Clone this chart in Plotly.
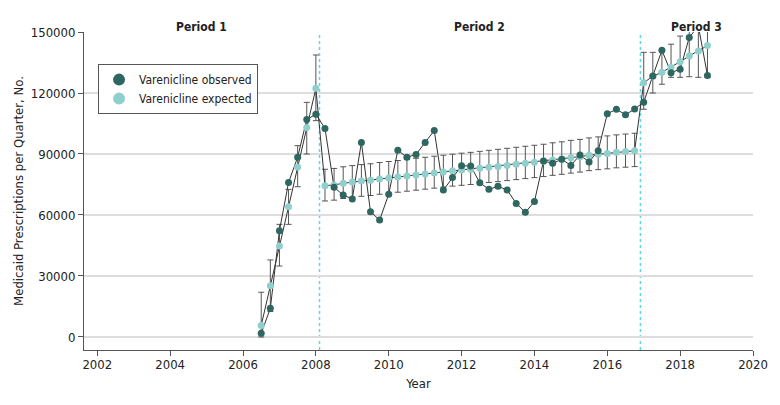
import plotly.graph_objects as go

# ---- data ----
quarters = (
    ["2006Q3", "2006Q4"]
    + [f"{y}Q{q}" for y in range(2007, 2019) for q in (1, 2, 3, 4)]
)

observed = [
    1800, 14100, 52300, 76000, 88400, 107000, 109500,
    102600, 73600, 69800, 67900, 95700, 61600, 57500, 70200, 91800, 88400,
    89800, 95700, 101500, 72300, 78500, 84200, 84100, 75900, 72600, 74100,
    72300, 65700, 61300, 66600, 86600, 85400, 87400, 84400, 89500, 86100,
    91600, 109800, 112000, 109300, 112100,
    115500, 128400, 141000, 130000, 131700, 147300, 153000, 128600,
]

expected = [
    5700, 25200, 44800, 64100, 83600, 103000, 122300,
    74400, 74800, 75600, 76200, 76700, 77100, 77700, 78200, 78700, 79200,
    79700, 80200, 80700, 81200, 81700, 82100, 82500, 83000, 83500, 83900,
    84400, 84900, 85400, 85900, 86400, 87000, 87500, 88200, 88700, 89400,
    89900, 90300, 90800, 91200, 91600,
    125100, 128200, 130200, 132600, 135400, 138200, 140700, 143300,
]

expected_upper = [
    22000, 37900, 55400, 72600, 94100, 115400, 138700,
    82500, 82900, 83700, 84300, 84800, 85200, 85800, 86300, 86800, 87300,
    87900, 88400, 88900, 89400, 89900, 90400, 90800, 91300, 91800, 92300,
    92800, 93300, 93800, 94300, 94800, 95500, 96000, 96700, 97200, 97900,
    98400, 98900, 99400, 99800, 100200,
    140000, 140000, 141000, 144000, 148000, 155000, 158000, 161000,
]

expected_lower = [
    0, 12500, 34900, 55400, 73900, 90000, 106400,
    66900, 67300, 68100, 68700, 69200, 69600, 70200, 70700, 71200, 71700,
    72200, 72700, 73200, 73700, 74200, 74600, 75000, 75500, 76000, 76400,
    76900, 77400, 77900, 78400, 78900, 79500, 80000, 80600, 81100, 81800,
    82300, 82700, 83200, 83500, 83800,
    112000, 120000, 124300, 127700, 127700, 128000, 127700, 127700,
]

period_labels = ["Period 1", "Period 2", "Period 3"]
period_breaks = [2008.1, 2016.91]          # dotted divider positions (year)
x_range = [2001.635, 2020]
y_range = [-6400, 150000]
x_ticks = [2002, 2004, 2006, 2008, 2010, 2012, 2014, 2016, 2018, 2020]
y_ticks = [0, 30000, 60000, 90000, 120000, 150000]

# ---- derived ----
def to_year(q):
    y, qq = q.split("Q")
    return int(y) + (int(qq) - 1) / 4

x = [to_year(q) for q in quarters]
err_plus = [u - e for u, e in zip(expected_upper, expected)]
err_minus = [e - l for e, l in zip(expected, expected_lower)]

FONT = "DejaVu Sans Condensed, Liberation Sans Narrow, Roboto, sans-serif"
DARK = "#2e6660"
LIGHT = "#8fd0cc"
LINE = "#333333"

fig = go.Figure()

fig.add_trace(go.Scatter(
    x=x, y=expected, mode="lines", line=dict(color=LINE, width=1),
    error_y=dict(type="data", symmetric=False, array=err_plus,
                 arrayminus=err_minus, color="#555555", thickness=1, width=3),
    showlegend=False, hoverinfo="skip",
))
fig.add_trace(go.Scatter(
    x=x, y=observed, mode="lines", line=dict(color=LINE, width=1),
    showlegend=False, hoverinfo="skip",
))
fig.add_trace(go.Scatter(
    x=x, y=expected, mode="markers", name="Varenicline expected",
    marker=dict(color=LIGHT, size=7), legendrank=2,
))
fig.add_trace(go.Scatter(
    x=x, y=observed, mode="markers", name="Varenicline observed",
    marker=dict(color=DARK, size=7), legendrank=1,
))

for b in period_breaks:
    fig.add_shape(type="line", x0=b, x1=b, xref="x", yref="paper", y0=0, y1=1,
                  line=dict(color="#5ed6e6", width=1.5, dash="dot"), layer="below")

bounds = [x_range[0]] + period_breaks + [x_range[1]]
for i, lab in enumerate(period_labels):
    fig.add_annotation(x=(bounds[i] + bounds[i + 1]) / 2, y=1.044, xref="x", yref="paper",
                       text=f"<b>{lab}</b>", showarrow=False,
                       font=dict(family=FONT, size=12, color="#222"))

# the page body has an 8px margin, so the figure is shrunk/shifted by 8px
fig.update_layout(
    width=772, height=397,
    margin=dict(l=76, r=27, t=24, b=55, autoexpand=False),
    paper_bgcolor="white", plot_bgcolor="white",
    font=dict(family=FONT, size=13, color="#222"),
    legend=dict(x=0.021, y=0.899, xanchor="left", yanchor="top",
                bordercolor="#555", borderwidth=1, bgcolor="white",
                font=dict(family=FONT, size=12, color="#222"),
                itemsizing="constant", itemwidth=30),
    xaxis=dict(range=x_range, tickvals=x_ticks, showgrid=False, zeroline=False,
               automargin=False, ticklabelstandoff=-3,
               showline=True, linecolor="#555", linewidth=1, ticks="outside",
               ticklen=5, tickcolor="#555",
               title=dict(text="Year", font=dict(family=FONT, size=13), standoff=8)),
    yaxis=dict(range=y_range, tickvals=y_ticks, ticktext=[str(v) for v in y_ticks],
               automargin=False,
               showgrid=True, gridcolor="#dddddd", gridwidth=1.5, zeroline=False,
               showline=True, linecolor="#555", linewidth=1, ticks="outside",
               ticklen=5, tickcolor="#555",
               title=dict(text="Medicaid Prescriptions per Quarter, No.",
                          font=dict(family=FONT, size=13), standoff=4)),
)

fig.write_html("out.html")
